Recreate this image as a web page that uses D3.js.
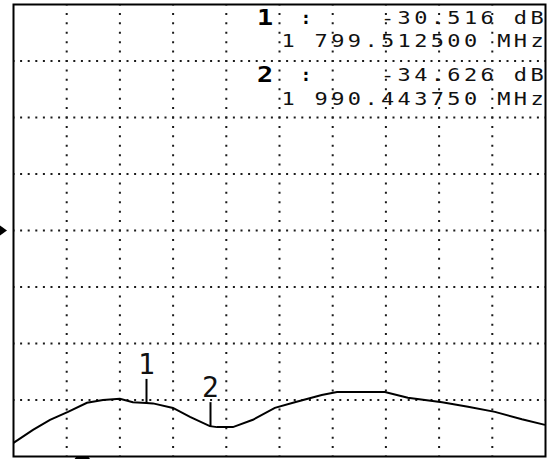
<!DOCTYPE html>
<html>
<head>
<meta charset="utf-8">
<script src="https://cdn.jsdelivr.net/npm/d3@7"></script>
<style>
  html, body { margin: 0; padding: 0; background: #fff; }
  svg { display: block; }
</style>
</head>
<body>
<svg id="chart" width="551" height="459"></svg>
<script>
// ---- data ----
const traceFreqMHz = [1400, 1458.6, 1509.8, 1563.9, 1621, 1669, 1720, 1759, 1799.5125, 1819.5, 1879.7, 1930.8, 1990.44375, 2012, 2060, 2120, 2186, 2246, 2327, 2373, 2517, 2586, 2689, 2767, 2848, 2929, 2998.5];
const traceDb      = [-37.6, -35.3, -33.5, -32.1, -30.5, -30.0, -29.8, -30.4, -30.516, -30.6, -31.4, -33.0, -34.626, -34.8, -34.8, -33.5, -31.4, -30.4, -29.1, -28.6, -28.6, -29.6, -30.4, -31.2, -32.1, -33.4, -34.4];
const markerIds    = ["1", "2"];
const markerFreq   = [1799.5125, 1990.44375];
const markerDb     = [-30.516, -34.626];
const freqRange    = [1400, 3000];   // MHz, 10 divisions
const dbRange      = [-40, 40];      // dB, 8 divisions
const refLevelDb   = 0;
const bottomMarkerFreq = 1607;
const xDivisions = 10, yDivisions = 8;

// ---- layout ----
const svg = d3.select("#chart");
const L = 13.5, R = 545.5, T = 4.5, B = 456.5;
const x = d3.scaleLinear().domain(freqRange).range([L, R]);
const y = d3.scaleLinear().domain(dbRange).range([B, T]);

// grid (dotted)
const xt = d3.range(1, xDivisions).map(i => freqRange[0] + i * (freqRange[1] - freqRange[0]) / xDivisions);
const yt = d3.range(1, yDivisions).map(i => dbRange[0] + i * (dbRange[1] - dbRange[0]) / yDivisions);
const dx = (R - L) / xDivisions / 7, dy = (B - T) / yDivisions / 6;
const grid = svg.append("g").attr("stroke", "#1a1a1a").attr("stroke-width", 2);
grid.selectAll("line.v").data(xt).join("line").attr("class", "v")
  .attr("x1", d => x(d)).attr("x2", d => x(d)).attr("y1", T).attr("y2", B)
  .attr("stroke-dasharray", `2,${dy - 2}`).attr("stroke-dashoffset", 1 - dy);
grid.selectAll("line.h").data(yt).join("line").attr("class", "h")
  .attr("y1", d => y(d)).attr("y2", d => y(d)).attr("x1", L).attr("x2", R)
  .attr("stroke-dasharray", `2,${dx - 2}`).attr("stroke-dashoffset", 1 - dx);

// readout text
const pitch = 16.6, firstCenter = 288, sx = 1.22;
const fmtFreq = f => {
  const s = f.toFixed(6);
  const [ip, fp] = s.split(".");
  return ip.replace(/\B(?=(\d{3})+(?!\d))/g, " ") + "." + fp;
};
const rowBase = [[24, 47], [81, 105]];
markerIds.forEach((id, i) => {
  const [b1, b2] = rowBase[i];
  svg.append("text").attr("x", 265 / sx).attr("y", b1 + 1).attr("text-anchor", "middle")
    .attr("transform", `scale(${sx},1)`)
    .attr("font-family", "DejaVu Sans Mono").attr("font-weight", "bold").attr("font-size", 22)
    .text(id);
  svg.append("text").attr("x", 306).attr("y", b1).attr("text-anchor", "middle")
    .attr("font-family", "DejaVu Sans Mono").attr("font-weight", "bold").attr("font-size", 18)
    .text(":");
  const lines = [[markerDb[i].toFixed(3) + " dB", b1], [fmtFreq(markerFreq[i]) + " MHz", b2]];
  lines.forEach(([str, base]) => {
    const n = str.length, start = 16 - n;
    const xs = d3.range(n).map(k => ((firstCenter + (start + k) * pitch) / sx).toFixed(2));
    svg.append("text").attr("x", xs.join(" ")).attr("y", base).attr("text-anchor", "middle")
      .attr("transform", `scale(${sx},1)`)
      .attr("font-family", "DejaVu Sans Mono").attr("font-size", 18).attr("fill", "#111")
      .text(str);
  });
});

// trace
const pts = traceFreqMHz.map((f, i) => [f, traceDb[i]]);
svg.append("path").datum(pts)
  .attr("fill", "none").attr("stroke", "#000").attr("stroke-width", 2)
  .attr("d", d3.line().x(d => x(d[0])).y(d => y(d[1])));

// markers
markerIds.forEach((id, i) => {
  const mx = Math.round(x(markerFreq[i])) + 0.5, my = y(markerDb[i]);
  svg.append("line").attr("x1", mx).attr("x2", mx).attr("y1", my).attr("y2", my - 24)
    .attr("stroke", "#000").attr("stroke-width", 2);
  svg.append("text").attr("x", mx).attr("y", my - 29).attr("text-anchor", "middle")
    .attr("font-family", "DejaVu Sans Mono").attr("font-size", 28).attr("fill", "#111")
    .text(id);
});

// frame
svg.append("rect").attr("x", L).attr("y", T).attr("width", R - L).attr("height", B - T)
  .attr("fill", "none").attr("stroke", "#000").attr("stroke-width", 2);

// reference level arrow
const ry = y(refLevelDb);
svg.append("path").attr("d", `M-3,${ry - 7}L7,${ry}L-3,${ry + 7}Z`).attr("fill", "#000");
// bottom marker
const bx = x(bottomMarkerFreq);
svg.append("path").attr("d", `M${bx - 8},${B + 3}L${bx - 6},${B}L${bx + 6},${B}L${bx + 8},${B + 3}Z`).attr("fill", "#000");
</script>
</body>
</html>
